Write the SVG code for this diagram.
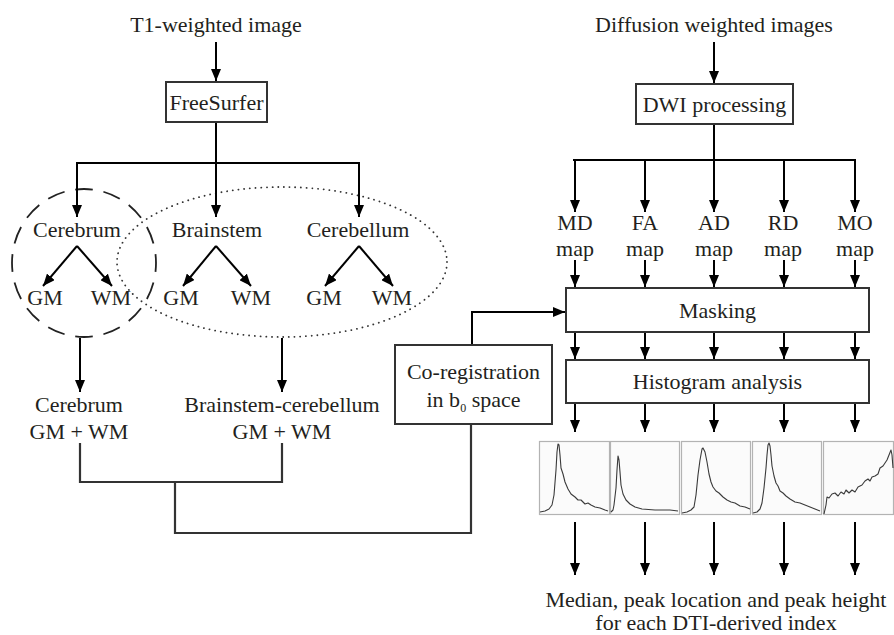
<svg xmlns="http://www.w3.org/2000/svg" width="894" height="635" viewBox="0 0 894 635" font-family="'Liberation Serif', 'Times New Roman', Tinos, 'DejaVu Serif', serif">
<style>
text{font-family:'Liberation Serif','Times New Roman',Tinos,'DejaVu Serif',serif;font-size:22px;fill:#231f20;text-anchor:middle}
.box{fill:#fff;stroke:#333;stroke-width:2}
.arr{stroke:#000;stroke-width:2;fill:none;marker-end:url(#ah)}
.ln{stroke:#000;stroke-width:2;fill:none}
.ln2{stroke:#333;stroke-width:2.2;fill:none}
.panel{fill:#fbfbfb;stroke:#b3b3b3;stroke-width:1.2}
.curve{fill:none;stroke:#3a3a3a;stroke-width:1.1;stroke-linejoin:round}
</style>
<defs>
<marker id="ah" markerUnits="userSpaceOnUse" markerWidth="12" markerHeight="10" viewBox="0 0 12 10" refX="12" refY="5" orient="auto">
<path d="M0,0 L12,5 L0,10 z" fill="#000"/>
</marker>
</defs>
<rect width="894" height="635" fill="#fff"/>

<g id="groups">
<ellipse id="cerebrum-group" cx="84" cy="263" rx="72" ry="74" fill="none" stroke="#222" stroke-width="1.8" pathLength="464" stroke-dasharray="18 11" stroke-dashoffset="9"/>
<ellipse id="brainstem-cerebellum-group" cx="282" cy="262" rx="165" ry="75" fill="none" stroke="#333" stroke-width="1.8" stroke-linecap="round" stroke-dasharray="0.1 5.6"/>
</g>

<g id="connectors">
<line class="arr" x1="216" y1="42" x2="216" y2="81"/>
<line class="ln" x1="216" y1="122" x2="216" y2="163"/>
<line class="ln" x1="76" y1="163" x2="360" y2="163"/>
<line class="arr" x1="77" y1="163" x2="77" y2="217"/>
<line class="arr" x1="216" y1="163" x2="216" y2="217"/>
<line class="arr" x1="359" y1="163" x2="359" y2="217"/>
<line class="arr" x1="77" y1="246" x2="43" y2="286"/>
<line class="arr" x1="77" y1="246" x2="112" y2="286"/>
<line class="arr" x1="216" y1="246" x2="183" y2="286"/>
<line class="arr" x1="216" y1="246" x2="251" y2="286"/>
<line class="arr" x1="359" y1="246" x2="325" y2="286"/>
<line class="arr" x1="359" y1="246" x2="393" y2="286"/>
<line class="arr" x1="80" y1="338" x2="80" y2="392"/>
<line class="arr" x1="282" y1="338" x2="282" y2="392"/>
<polyline class="ln2" points="80,443 80,482 282,482 282,443"/>
<polyline class="ln2" points="175,482 175,533 471,533 471,424"/>
<polyline class="arr" points="472,345 472,312 565,312"/>

<line class="arr" x1="714" y1="42" x2="714" y2="83"/>
<line class="ln" x1="714" y1="124" x2="714" y2="160"/>
<line class="ln" x1="573" y1="160" x2="856" y2="160"/>
<line class="arr" x1="575" y1="160" x2="575" y2="212"/>
<line class="arr" x1="645" y1="160" x2="645" y2="212"/>
<line class="arr" x1="714" y1="160" x2="714" y2="212"/>
<line class="arr" x1="784" y1="160" x2="784" y2="212"/>
<line class="arr" x1="855" y1="160" x2="855" y2="212"/>

<line class="arr" x1="575" y1="260" x2="575" y2="287"/>
<line class="arr" x1="645" y1="260" x2="645" y2="287"/>
<line class="arr" x1="714" y1="260" x2="714" y2="287"/>
<line class="arr" x1="784" y1="260" x2="784" y2="287"/>
<line class="arr" x1="855" y1="260" x2="855" y2="287"/>

<line class="arr" x1="575" y1="333" x2="575" y2="359"/>
<line class="arr" x1="645" y1="333" x2="645" y2="359"/>
<line class="arr" x1="714" y1="333" x2="714" y2="359"/>
<line class="arr" x1="784" y1="333" x2="784" y2="359"/>
<line class="arr" x1="855" y1="333" x2="855" y2="359"/>

<line class="arr" x1="575" y1="404" x2="575" y2="432"/>
<line class="arr" x1="645" y1="404" x2="645" y2="432"/>
<line class="arr" x1="714" y1="404" x2="714" y2="432"/>
<line class="arr" x1="784" y1="404" x2="784" y2="432"/>
<line class="arr" x1="855" y1="404" x2="855" y2="432"/>

<line class="arr" x1="575" y1="522" x2="575" y2="575"/>
<line class="arr" x1="645" y1="522" x2="645" y2="575"/>
<line class="arr" x1="714" y1="522" x2="714" y2="575"/>
<line class="arr" x1="784" y1="522" x2="784" y2="575"/>
<line class="arr" x1="855" y1="522" x2="855" y2="575"/>
</g>

<g id="t1"><text x="216" y="32">T1-weighted image</text></g>
<g id="freesurfer"><rect class="box" x="166" y="82" width="101" height="40"/><text x="216.5" y="110">FreeSurfer</text></g>
<g id="cerebrum"><text x="77" y="237">Cerebrum</text></g>
<g id="brainstem"><text x="217" y="237">Brainstem</text></g>
<g id="cerebellum"><text x="358" y="237">Cerebellum</text></g>
<g id="cerebrum-gm"><text x="45" y="305">GM</text></g>
<g id="cerebrum-wm"><text x="111" y="305">WM</text></g>
<g id="brainstem-gm"><text x="181" y="305">GM</text></g>
<g id="brainstem-wm"><text x="251" y="305">WM</text></g>
<g id="cerebellum-gm"><text x="324" y="305">GM</text></g>
<g id="cerebellum-wm"><text x="392" y="305">WM</text></g>
<g id="cerebrum-total"><text x="79" y="412">Cerebrum</text><text x="79" y="439">GM + WM</text></g>
<g id="bc-total"><text x="282" y="412">Brainstem-cerebellum</text><text x="282" y="439">GM + WM</text></g>
<g id="coreg"><rect class="box" x="395" y="345" width="157" height="79"/><text x="473.5" y="379">Co-registration</text><text x="473.5" y="407">in b<tspan font-size="12" dy="5">0</tspan><tspan dy="-5"> space</tspan></text></g>

<g id="dwi"><text x="714" y="32">Diffusion weighted images</text></g>
<g id="dwi-processing"><rect class="box" x="636" y="84" width="157" height="40"/><text x="714.5" y="112">DWI processing</text></g>
<g id="md"><text x="575" y="230">MD</text><text x="575" y="256">map</text></g>
<g id="fa"><text x="645" y="230">FA</text><text x="645" y="256">map</text></g>
<g id="ad"><text x="714" y="230">AD</text><text x="714" y="256">map</text></g>
<g id="rd"><text x="783" y="230">RD</text><text x="783" y="256">map</text></g>
<g id="mo"><text x="855" y="230">MO</text><text x="855" y="256">map</text></g>
<g id="masking"><rect class="box" x="566" y="288" width="303" height="44"/><text x="717.5" y="318">Masking</text></g>
<g id="histogram"><rect class="box" x="566" y="360" width="303" height="43"/><text x="717.5" y="389">Histogram analysis</text></g>

<g id="histograms">
<rect class="panel" x="539.5" y="441.5" width="70" height="73"/>
<rect class="panel" x="610.5" y="441.5" width="69" height="73"/>
<rect class="panel" x="681.5" y="441.5" width="69" height="73"/>
<rect class="panel" x="752.5" y="441.5" width="69" height="73"/>
<rect class="panel" x="823.5" y="441.5" width="70" height="73"/>
<polyline class="curve" points="540,512 545,511 549,509 552,505 554,495 556,470 557,452 558,444 559,445 560,455 561,468 563,474 565,482 568,489 571,494 575,497 578,500 581,500 583,502 585,504 588,503 591,505 595,507 600,508 605,510 608,511"/>
<polyline class="curve" points="611,512 613,510 614,505 616,488 617,470 618,456 619,460 620,472 621,485 623,494 626,500 630,504 635,507 642,509 655,510 670,510 678,511"/>
<polyline class="curve" points="682,513 687,512 691,510 694,507 696,495 698,475 700,460 702,449 703,448 705,452 707,462 709,474 711,482 713,487 716,491 719,493 723,497 727,500 731,502 735,503 740,506 745,507 750,509"/>
<polyline class="curve" points="753,513 757,512 760,509 762,503 764,488 766,468 767,455 768,445 769,443 770,446 771,455 772,466 774,476 776,483 778,486 780,491 783,493 786,496 790,499 795,502 800,503 805,505 810,507 815,509 820,511"/>
<polyline class="curve" points="824,514 826,505 827,497 829,498 832,494 835,493 838,496 841,492 844,494 846,490 849,493 852,490 855,492 858,487 862,485 865,481 868,479 870,481 872,477 875,476 878,474 880,468 883,466 885,463 887,460 889,455 891,450 892,455 893,468"/>
</g>

<g id="result"><text x="716" y="607">Median, peak location and peak height</text><text x="716" y="630">for each DTI-derived index</text></g>
</svg>
